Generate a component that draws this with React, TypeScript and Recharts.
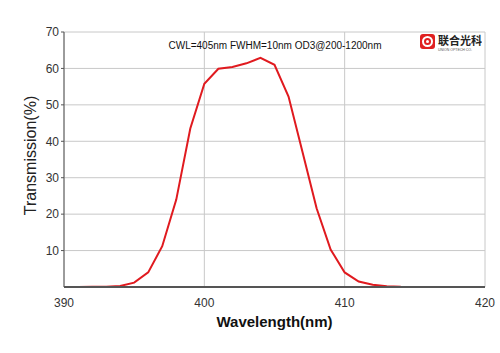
import { CartesianGrid, Label, Line, LineChart, XAxis, YAxis } from "recharts";

const wavelengths = [
  390, 391, 392, 393, 394, 395, 396, 397, 398, 399, 400, 401, 402, 403, 404, 405,
  406, 407, 408, 409, 410, 411, 412, 413, 414, 415, 416, 417, 418, 419, 420,
];
const transmission = [
  0, 0, 0.05, 0.1, 0.3, 1.2, 4.0, 11.2, 24.0, 43.5, 55.8, 59.9, 60.4, 61.4, 62.9, 61.0,
  52.3, 37.0, 21.6, 10.3, 4.0, 1.5, 0.6, 0.2, 0.05, 0, 0, 0, 0, 0, 0,
];
const xTicks = [390, 400, 410, 420];
const yTicks = [10, 20, 30, 40, 50, 60, 70];

const data = wavelengths.map((w, i) => ({ w, t: transmission[i] }));

const FONT = '"Liberation Sans", Arial, sans-serif';
const GRID = "#c8c8c8";
const AXIS = "#555";

export default function App() {
  return (
    <div style={{ position: "absolute", left: 0, top: 0, width: 500, height: 353, background: "#fff" }}>
      <LineChart width={500} height={353} data={data} margin={{ top: 32, right: 15, left: 0, bottom: 0 }}>
        <CartesianGrid stroke={GRID} strokeWidth={1} />
        <XAxis
          dataKey="w"
          type="number"
          domain={[390, 420]}
          ticks={xTicks}
          height={66}
          stroke={AXIS}
          strokeWidth={2}
          tickLine={false}
          tickMargin={5}
          tick={{ fill: "#333", fontSize: 12, fontFamily: FONT }}
        >
          <Label
            value="Wavelength(nm)"
            position="insideBottom"
            offset={26}
            style={{ fill: "#111", fontSize: 15, fontWeight: 700, fontFamily: FONT }}
          />
        </XAxis>
        <XAxis xAxisId="top" orientation="top" dataKey="w" type="number" domain={[390, 420]} height={0} tick={false} tickLine={false} stroke={AXIS} />
        <YAxis
          domain={[0, 70]}
          ticks={yTicks}
          width={64}
          stroke={AXIS}
          tickSize={3}
          tickMargin={2}
          tick={{ fill: "#333", fontSize: 12, fontFamily: FONT }}
          interval={0}
        >
          <Label
            value="Transmission(%)"
            angle={-90}
            position="insideLeft"
            offset={30}
            dy={-4}
            style={{ fill: "#222", fontSize: 16, fontFamily: FONT, textAnchor: "middle" }}
          />
        </YAxis>
        <YAxis yAxisId="right" orientation="right" domain={[0, 70]} width={0} tick={false} tickLine={false} stroke={AXIS} />
        <Line
          dataKey="t"
          type="linear"
          stroke="#e01a1f"
          strokeWidth={2}
          dot={false}
          isAnimationActive={false}
        />
      </LineChart>
      <div
        style={{
          position: "absolute",
          left: 0,
          top: 40,
          width: 550,
          textAlign: "center",
          fontFamily: FONT,
          fontSize: 10,
          color: "#111",
        }}
      >
        CWL=405nm FWHM=10nm OD3@200-1200nm
      </div>
      <svg style={{ position: "absolute", left: 418, top: 33 }} width={64} height={20}>
        <rect x={2} y={1} width={15} height={15} rx={3} fill="#e02020" />
        <circle cx={9.5} cy={8.5} r={4.5} fill="none" stroke="#fff" strokeWidth={2} />
        <circle cx={9.5} cy={8.5} r={1.5} fill="#fff" />
        <text x={20} y={12} fontSize={11} fontWeight={700} fill="#222" fontFamily='"Noto Sans CJK SC", sans-serif'>
          联合光科
        </text>
        <text x={20} y={18} fontSize={3.5} fill="#555" fontFamily={FONT}>
          UNION OPTECH CO.
        </text>
      </svg>
    </div>
  );
}
